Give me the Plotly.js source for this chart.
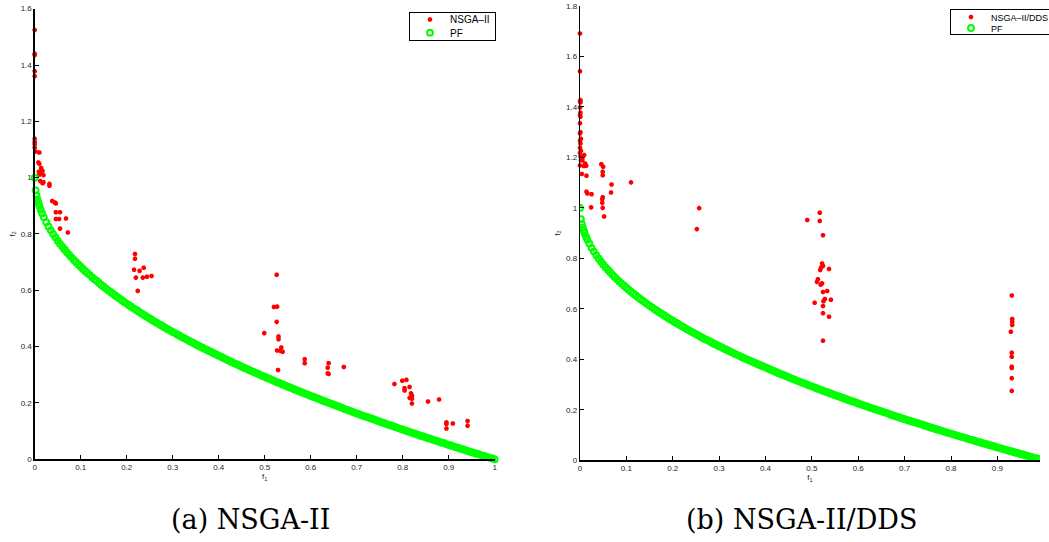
<!DOCTYPE html>
<html>
<head>
<meta charset="utf-8">
<script src="https://cdn.plot.ly/plotly-3.0.1.min.js"></script>
<style>html,body{margin:0;padding:0;background:#fff;}#chart{width:1049px;height:542px;}</style>
</head>
<body>
<div id="chart"></div>
<script>
// Pareto front (PF) values
const pfF1 = [0,0.002,0.004,0.006,0.008,0.01,0.013,0.016,0.02,
0.025,0.03,0.035,0.04,0.045,0.05,0.055,0.06,0.065,0.07,0.075,0.08,0.085,0.09,0.095,0.1,
0.105,0.11,0.115,0.12,0.125,0.13,0.135,0.14,0.145,0.15,0.155,0.16,0.165,0.17,0.175,0.18,0.185,0.19,0.195,0.2,
0.205,0.21,0.215,0.22,0.225,0.23,0.235,0.24,0.245,0.25,0.255,0.26,0.265,0.27,0.275,0.28,0.285,0.29,0.295,0.3,
0.305,0.31,0.315,0.32,0.325,0.33,0.335,0.34,0.345,0.35,0.355,0.36,0.365,0.37,0.375,0.38,0.385,0.39,0.395,0.4,
0.405,0.41,0.415,0.42,0.425,0.43,0.435,0.44,0.445,0.45,0.455,0.46,0.465,0.47,0.475,0.48,0.485,0.49,0.495,0.5,
0.505,0.51,0.515,0.52,0.525,0.53,0.535,0.54,0.545,0.55,0.555,0.56,0.565,0.57,0.575,0.58,0.585,0.59,0.595,0.6,
0.605,0.61,0.615,0.62,0.625,0.63,0.635,0.64,0.645,0.65,0.655,0.66,0.665,0.67,0.675,0.68,0.685,0.69,0.695,0.7,
0.705,0.71,0.715,0.72,0.725,0.73,0.735,0.74,0.745,0.75,0.755,0.76,0.765,0.77,0.775,0.78,0.785,0.79,0.795,0.8,
0.805,0.81,0.815,0.82,0.825,0.83,0.835,0.84,0.845,0.85,0.855,0.86,0.865,0.87,0.875,0.88,0.885,0.89,0.895,0.9,
0.905,0.91,0.915,0.92,0.925,0.93,0.935,0.94,0.945,0.95,0.955,0.96,0.965,0.97,0.975,0.98,0.985,0.99,0.995,1];
const pfF2 = [1,0.955,0.937,0.923,0.911,0.9,0.886,0.874,0.859,
0.842,0.827,0.813,0.8,0.788,0.776,0.765,0.755,0.745,0.735,0.726,0.717,0.708,0.7,0.692,0.684,
0.676,0.668,0.661,0.654,0.646,0.639,0.633,0.626,0.619,0.613,0.606,0.6,0.594,0.588,0.582,0.576,0.57,0.564,0.558,0.553,
0.547,0.542,0.536,0.531,0.526,0.52,0.515,0.51,0.505,0.5,0.495,0.49,0.485,0.48,0.476,0.471,0.466,0.461,0.457,0.452,
0.448,0.443,0.439,0.434,0.43,0.426,0.421,0.417,0.413,0.408,0.404,0.4,0.396,0.392,0.388,0.384,0.38,0.376,0.372,0.368,
0.364,0.36,0.356,0.352,0.348,0.344,0.34,0.337,0.333,0.329,0.325,0.322,0.318,0.314,0.311,0.307,0.304,0.3,0.296,0.293,
0.289,0.286,0.282,0.279,0.275,0.272,0.269,0.265,0.262,0.258,0.255,0.252,0.248,0.245,0.242,0.238,0.235,0.232,0.229,0.225,
0.222,0.219,0.216,0.213,0.209,0.206,0.203,0.2,0.197,0.194,0.191,0.188,0.185,0.181,0.178,0.175,0.172,0.169,0.166,0.163,
0.16,0.157,0.154,0.151,0.149,0.146,0.143,0.14,0.137,0.134,0.131,0.128,0.125,0.122,0.12,0.117,0.114,0.111,0.108,0.106,
0.103,0.1,0.097,0.094,0.092,0.089,0.086,0.083,0.081,0.078,0.075,0.073,0.07,0.067,0.065,0.062,0.059,0.057,0.054,0.051,
0.049,0.046,0.043,0.041,0.038,0.036,0.033,0.03,0.028,0.025,0.023,0.02,0.018,0.015,0.013,0.01,0.008,0.005,0.003,0];

// NSGA-II solutions (panel a)
const nsgaF1 = [0,0,0,0,0,0,0,0,0,0.002,
0.010,0.008,0.010,0.014,0.017,0.009,0.019,0.010,0.012,0.012,0.017,0.019,0.032,0.032,0.038,0.044,0.046,0.046,0.055,0.046,0.053,0.068,0.055,0.072,
0.218,0.218,0.216,0.228,0.237,0.22,0.235,0.244,0.254,0.224,
0.526,0.520,0.527,0.526,0.499,0.530,0.530,0.536,0.527,0.539,0.534,0.529,
0.587,0.587,0.639,0.637,0.637,0.639,0.672,
0.782,0.799,0.808,0.804,0.804,0.815,0.818,0.820,0.815,0.820,0.820,0.855,0.879,
0.895,0.895,0.909,0.895,0.941,0.941];
const nsgaF2 = [1.524,1.44,1.435,1.378,1.36,1.138,1.127,1.119,1.107,1.093,
1.089,1.054,1.049,1.034,1.024,1.021,1.009,1.010,1.016,0.988,0.980,0.984,0.978,0.971,0.917,0.912,0.908,0.877,0.877,0.853,0.853,0.855,0.819,0.805,
0.729,0.712,0.673,0.669,0.68,0.645,0.645,0.648,0.651,0.598,
0.655,0.541,0.542,0.488,0.448,0.436,0.426,0.397,0.386,0.382,0.385,0.317,
0.355,0.341,0.341,0.325,0.305,0.303,0.328,
0.267,0.279,0.282,0.252,0.244,0.257,0.234,0.226,0.218,0.215,0.198,0.205,0.212,
0.131,0.125,0.127,0.109,0.136,0.119];

// NSGA-II/DDS solutions (panel b)
const ddsF1 = [0,0,0.001,0,0.001,0,0.001,0,0.001,0,0.001,0,0.002,0,0.001,0,0.002,0,0.001,0.002,0,
0.006,0.009,0.005,0.011,0.0085,0.0135,0.004,0.014,0.014,0.016,0.025,0.024,
0.046,0.05,0.049,0.049,0.068,0.110,0.067,0.049,0.048,0.048,0.049,0.052,
0.257,0.252,
0.517,0.490,0.517,0.524,0.522,0.524,0.520,0.537,0.518,0.513,0.511,0.522,0.519,0.524,0.533,0.528,0.541,0.525,0.506,0.524,0.524,0.537,0.524,
0.931,0.932,0.932,0.932,0.929,0.931,0.931,0.931,0.931,0.931,0.931];
const ddsF2 = [1.691,1.541,1.427,1.422,1.418,1.398,1.377,1.369,1.361,1.335,1.300,1.295,1.274,1.266,1.255,1.238,1.226,1.218,1.204,1.189,1.168,
1.202,1.209,1.189,1.176,1.166,1.167,1.134,1.127,1.064,1.057,1.054,1.002,
1.173,1.163,1.143,1.129,1.093,1.101,1.061,1.042,1.034,1.020,1.000,0.966,
0.999,0.916,
0.981,0.952,0.948,0.892,0.780,0.770,0.764,0.758,0.754,0.717,0.707,0.701,0.696,0.667,0.671,0.639,0.636,0.630,0.624,0.611,0.583,0.569,0.474,
0.653,0.560,0.549,0.536,0.509,0.426,0.410,0.371,0.366,0.325,0.275];

const xTicks = [0,0.1,0.2,0.3,0.4,0.5,0.6,0.7,0.8,0.9,1];

const RED = 'rgb(255,0,0)';
const GREEN = 'rgb(0,255,0)';
const starMarker = {symbol:'asterisk-open', size:3.8, color:RED, line:{color:RED, width:1.7}};
const ringMarker = {symbol:'circle-open', size:5.8, color:GREEN, line:{color:GREEN, width:2}};

const traces = [
  {x:nsgaF1, y:nsgaF2, type:'scatter', mode:'markers', name:'NSGA\u2013II', marker:starMarker, xaxis:'x', yaxis:'y', legend:'legend', cliponaxis:false},
  {x:pfF1, y:pfF2, type:'scatter', mode:'markers', name:'PF', marker:ringMarker, xaxis:'x', yaxis:'y', legend:'legend', cliponaxis:false},
  {x:ddsF1, y:ddsF2, type:'scatter', mode:'markers', name:'NSGA\u2013II/DDS', marker:starMarker, xaxis:'x2', yaxis:'y2', legend:'legend2', cliponaxis:false},
  {x:pfF1, y:pfF2, type:'scatter', mode:'markers', name:'PF', marker:ringMarker, xaxis:'x2', yaxis:'y2', legend:'legend2', cliponaxis:true}
];

const SANS = 'Liberation Sans, Arial, sans-serif';
const tickFont = {family:SANS, size:8, color:'#262626'};
function axisBase(){
  return {showgrid:false, zeroline:false, showline:true, linecolor:'#000', linewidth:1.3,
    ticks:'inside', ticklen:4, tickwidth:1, tickcolor:'#000', tickfont:tickFont, mirror:false};
}
const layout = {
  width:1049, height:542,
  margin:{l:0,r:0,t:0,b:0},
  paper_bgcolor:'#fff', plot_bgcolor:'rgba(0,0,0,0)',
  showlegend:true,
  xaxis: Object.assign(axisBase(), {domain:[35/1049, 499/1049], range:[0,1], tickvals:xTicks, anchor:'y',
    title:{text:'f<sub>1</sub>', font:{family:SANS, size:8, color:'#262626'}, standoff:2}}),
  yaxis: Object.assign(axisBase(), {domain:[0.1526, 0.984], range:[0,1.6], dtick:0.2, tick0:0, anchor:'x',
    title:{text:'f<sub>2</sub>', font:{family:SANS, size:8, color:'#262626'}, standoff:4}}),
  xaxis2: Object.assign(axisBase(), {domain:[585/1049, 1], range:[0,0.9919], tickvals:xTicks, anchor:'y2',
    title:{text:'f<sub>1</sub>', font:{family:SANS, size:8, color:'#262626'}, standoff:2}}),
  yaxis2: Object.assign(axisBase(), {domain:[0.1507, 0.989], range:[0,1.8], dtick:0.2, tick0:0, anchor:'x2',
    title:{text:'f<sub>2</sub>', font:{family:SANS, size:8, color:'#262626'}, standoff:4}}),
  legend:{x:409/1049, y:1-12/542, xanchor:'left', yanchor:'top', bgcolor:'#fff', bordercolor:'#000', borderwidth:1,
    font:{family:SANS, size:10, color:'#000'}, tracegroupgap:0, itemwidth:30},
  legend2:{x:952/1049, y:1-9/542, xanchor:'left', yanchor:'top', bgcolor:'#fff', bordercolor:'#000', borderwidth:1,
    font:{family:SANS, size:9, color:'#000'}, tracegroupgap:0, itemwidth:30},
  annotations:[
    {text:'(a) NSGA-II', x:253/1049, y:1-519/542, xref:'paper', yref:'paper', xanchor:'center', yanchor:'middle', showarrow:false,
     font:{family:'DejaVu Serif, serif', size:27, color:'#000'}},
    {text:'(b) NSGA-II/DDS', x:808/1049, y:1-519/542, xref:'paper', yref:'paper', xanchor:'center', yanchor:'middle', showarrow:false,
     font:{family:'DejaVu Serif, serif', size:27, color:'#000'}}
  ]
};

// compact legend rows (MATLAB-style tight legend box)
function legendRoot(el){
  let n = el.parentNode;
  while(n && n.getAttribute){
    const c = n.getAttribute('class') || '';
    if(/^legend\d*$/.test(c.trim())) return n;
    n = n.parentNode;
  }
  return null;
}
Plotly.newPlot('chart', traces, layout, {displayModeBar:false, staticPlot:true}).then(function(gd){
  const roots = [];
  gd.querySelectorAll('g.traces').forEach(function(it){
    const r = legendRoot(it);
    if(r && roots.indexOf(r) < 0) roots.push(r);
  });
  roots.forEach(function(g){
    const items = Array.from(g.querySelectorAll('g.traces'));
    const txt = items.map(function(it){ const t = it.querySelector('text'); return t ? t.textContent : ''; }).join('|');
    const isDDS = /DDS/.test(txt);
    const spec = isDDS ? {h:26, ys:[8,19], left:950} : {h:29, ys:[7.5,20.7], left:409};
    items.forEach(function(it, i){
      const tr = it.getAttribute('transform') || '';
      const m = /translate\(\s*([-\d.eE]+)/.exec(tr);
      const x = m ? parseFloat(m[1]) : 0;
      it.setAttribute('transform', 'translate(' + x + ',' + spec.ys[i] + ')');
    });
    g.querySelectorAll('rect.bg').forEach(function(bg){ bg.setAttribute('height', spec.h - 1); });
    const gt = g.getAttribute('transform') || '';
    const gm = /translate\(\s*([-\d.eE]+)[\s,]+([-\d.eE]+)/.exec(gt);
    if(gm){ g.setAttribute('transform', 'translate(' + spec.left + ',' + gm[2] + ')'); }
  });
});
</script>
</body>
</html>
